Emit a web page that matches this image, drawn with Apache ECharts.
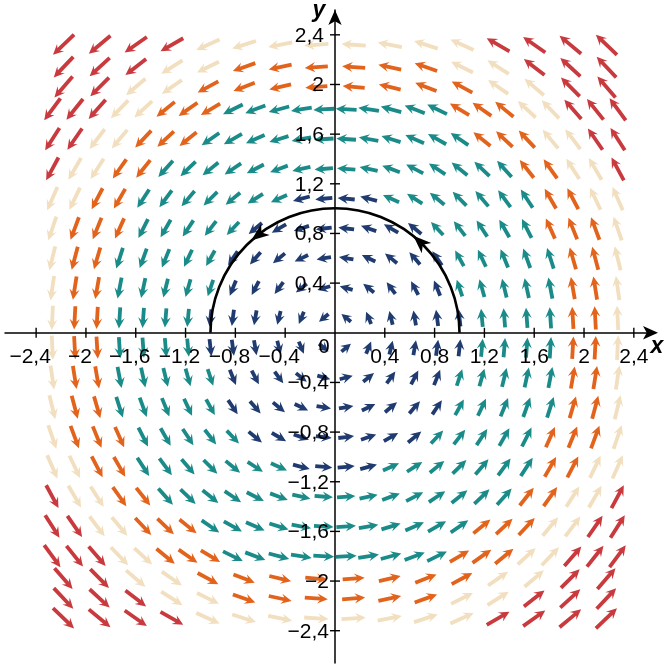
<!DOCTYPE html>
<html>
<head>
<meta charset="utf-8">
<script src="https://cdn.jsdelivr.net/npm/echarts@6/dist/echarts.min.js"></script>
<style>
html,body{margin:0;padding:0;background:#fff;}
#chart{width:668px;height:664px;}
</style>
</head>
<body>
<div id="chart"></div>
<script>
// ---- data ----
// regular arrow grid (centre region)
const innerX = [-2.27, -2.09, -1.91, -1.73, -1.54, -1.36, -1.18, -1.00, -0.82, -0.64, -0.45, -0.27, -0.09,
                 0.09, 0.27, 0.45, 0.64, 0.82, 1.00, 1.18, 1.36, 1.54, 1.73, 1.91, 2.09, 2.27];
const innerY = [1.80, 1.56, 1.32, 1.08, 0.84, 0.60, 0.36, 0.12, -0.12, -0.36, -0.60, -0.84, -1.08, -1.32, -1.56, -1.80];
// horizontal component of the arrows in each grid row
const innerU = [-1.80, -1.56, -1.32, -1.08, -0.84, -0.60, -0.36, -0.12, 0.12, 0.36, 0.60, 0.84, 1.08, 1.32, 1.56, 1.80];
// vertical component of the arrows in each grid column
const innerV = [-2.45, -2.26, -2.06, -1.87, -1.66, -1.47, -1.27, -1.08, -0.89, -0.69, -0.49, -0.29, -0.10,
                 0.10, 0.29, 0.49, 0.69, 0.89, 1.08, 1.27, 1.47, 1.66, 1.87, 2.06, 2.26, 2.45];
// outer rows (top and bottom band, wider spacing)
const outerX = [-2.18, -1.89, -1.60, -1.31, -1.02, -0.73, -0.44, -0.15, 0.15, 0.44, 0.73, 1.02, 1.31, 1.60, 1.89, 2.18];
const outerY = [2.32, 2.14, 1.98, -1.98, -2.14, -2.30];
const outerU = [-2.45, -2.22, -2.03, 2.03, 2.22, 2.45];
const outerV = [-2.35, -2.04, -1.73, -1.41, -1.10, -0.79, -0.48, -0.16, 0.16, 0.48, 0.79, 1.10, 1.41, 1.73, 2.04, 2.35];
// magnitude classes
const magBreaks = [1.12, 2.01, 2.42, 2.72];
const magColors = ['#1f3b70', '#1b8b89', '#e2631c', '#f1dfbf', '#c93a3e'];
// path C: upper half of the unit circle, traversed counterclockwise
const pathRadius = 1;
const pathArrowAngles = [47, 128];
// ticks and labels
const xTickValues = [-2.4, -2, -1.6, -1.2, -0.8, -0.4, 0.4, 0.8, 1.2, 1.6, 2, 2.4];
const yTickValues = [-2.4, -2, -1.6, -1.2, -0.8, -0.4, 0.4, 0.8, 1.2, 1.6, 2, 2.4];
const originLabel = '0';

// ---- build table ----
const arrows = [];
innerY.forEach((y, i) => innerX.forEach((x, j) => arrows.push([x, y, innerU[i], innerV[j]])));
outerY.forEach((y, i) => outerX.forEach((x, j) => arrows.push([x, y, outerU[i], outerV[j]])));
arrows.forEach(a => a.push(Math.hypot(a[2], a[3])));

const FONT = '"Liberation Sans", Arial, sans-serif';
function fmt(v) {
  const s = Math.abs(v).toFixed(1).replace(/\.0$/, '').replace('.', ',');
  return (v < 0 ? '\u2212' : '') + s;
}
function arrowPts(cx, cy, dx, dy, L, hl, hw, sw, notch) {
  const px = -dy, py = dx;
  const back = L / 2 - hl + notch;
  const loc = [[L / 2, 0], [L / 2 - hl, hw], [back, sw], [-L / 2, sw], [-L / 2, -sw], [back, -sw], [L / 2 - hl, -hw]];
  return loc.map(([t, s]) => [cx + t * dx + s * px, cy + t * dy + s * py]);
}
function dirPx(api, x, y, u, v) {
  const a = api.coord([x, y]);
  const b = api.coord([x + u * 0.01, y + v * 0.01]);
  let dx = b[0] - a[0], dy = b[1] - a[1];
  const n = Math.hypot(dx, dy) || 1;
  return [a, dx / n, dy / n];
}

const pieces = [
  {lt: magBreaks[0], color: magColors[0]},
  {gte: magBreaks[0], lt: magBreaks[1], color: magColors[1]},
  {gte: magBreaks[1], lt: magBreaks[2], color: magColors[2]},
  {gte: magBreaks[2], lt: magBreaks[3], color: magColors[3]},
  {gte: magBreaks[3], color: magColors[4]}
];

const tickData = xTickValues.map(v => [v, 0, 0]).concat(yTickValues.map(v => [0, v, 1]));

const chart = echarts.init(document.getElementById('chart'), null, {renderer: 'canvas'});
chart.setOption({
  animation: false,
  backgroundColor: '#fff',
  grid: {left: 5, top: 10, width: 650, height: 653, containLabel: false, outerBoundsMode: 'none'},
  xAxis: {
    type: 'value', min: -2.65, max: 2.57,
    axisLine: {onZero: true, lineStyle: {color: '#000', width: 1.5}, symbol: ['none', 'arrow'], symbolSize: [10, 15], symbolOffset: [0, 3]},
    axisTick: {show: false},
    splitLine: {show: false},
    axisLabel: {show: false}
  },
  yAxis: {
    type: 'value', min: -2.66, max: 2.6,
    axisLine: {onZero: true, lineStyle: {color: '#000', width: 1.5}, symbol: ['none', 'arrow'], symbolSize: [10, 15]},
    axisTick: {show: false},
    splitLine: {show: false},
    axisLabel: {show: false}
  },
  visualMap: {type: 'piecewise', show: false, dimension: 4, seriesIndex: 0, pieces: pieces},
  graphic: [
    {type: 'text', x: 657, y: 347, z: 10, style: {text: 'x', font: 'italic bold 23px ' + FONT, fill: '#000', align: 'center', verticalAlign: 'middle'}},
    {type: 'text', x: 319, y: 11, z: 10, style: {text: 'y', font: 'italic bold 23px ' + FONT, fill: '#000', align: 'center', verticalAlign: 'middle'}}
  ],
  series: [
    {
      type: 'custom', z: 3,
      data: arrows,
      encode: {x: 0, y: 1},
      renderItem: function (params, api) {
        const x = api.value(0), y = api.value(1), u = api.value(2), v = api.value(3), m = api.value(4);
        const [c, dx, dy] = dirPx(api, x, y, u, v);
        const L = 11.5 + 5.2 * m;
        const hl = Math.min(10.5, L * 0.8);
        return {
          type: 'polygon',
          shape: {points: arrowPts(c[0], c[1], dx, dy, L, hl, 5.1, 1.9, 2.6)},
          style: {fill: api.visual('color')}
        };
      }
    },
    {
      type: 'custom', z: 4,
      data: [[0, 0, pathRadius]],
      encode: {x: 0, y: 1},
      renderItem: function (params, api) {
        const c = api.coord([api.value(0), api.value(1)]);
        const r = api.size([api.value(2), 0])[0];
        return {
          type: 'arc',
          shape: {cx: c[0], cy: c[1], r: r, startAngle: Math.PI, endAngle: 2 * Math.PI, clockwise: true},
          style: {stroke: '#000', lineWidth: 2.6, fill: null}
        };
      }
    },
    {
      type: 'custom', z: 5,
      data: pathArrowAngles.map(a => [pathRadius * Math.cos(a * Math.PI / 180), pathRadius * Math.sin(a * Math.PI / 180), a]),
      encode: {x: 0, y: 1},
      renderItem: function (params, api) {
        const t = api.value(2) * Math.PI / 180;
        const [c, dx, dy] = dirPx(api, api.value(0), api.value(1), -Math.sin(t), Math.cos(t));
        return {
          type: 'polygon',
          shape: {points: arrowPts(c[0], c[1], dx, dy, 18, 18, 7, 0, 5).filter((p, i) => i !== 3 && i !== 4)},
          style: {fill: '#000'}
        };
      }
    },
    {
      type: 'custom', z: 6,
      data: tickData,
      encode: {x: 0, y: 1},
      renderItem: function (params, api) {
        const val = [api.value(0), api.value(1)];
        const c = api.coord(val);
        const vertical = api.value(2) === 0;
        const s = 5;
        const num = vertical ? val[0] : val[1];
        const label = fmt(num);
        const neg = num < 0;
        return {
          type: 'group',
          children: [
            {
              type: 'line',
              shape: vertical ? {x1: c[0], y1: c[1] - s, x2: c[0], y2: c[1] + s} : {x1: c[0] - s, y1: c[1], x2: c[0] + s, y2: c[1]},
              style: {stroke: '#000', lineWidth: 1.4}
            },
            {
              type: 'text',
              x: vertical ? c[0] - (neg ? 6 : 0) : c[0] - (neg ? 6 : 11),
              y: vertical ? c[1] + 24 : c[1] + 1,
              style: {text: label, font: '21px ' + FONT, fill: '#000', align: vertical ? 'center' : 'right', verticalAlign: 'middle'}
            }
          ]
        };
      }
    },
    {
      type: 'custom', z: 6,
      data: [[0, 0]],
      encode: {x: 0, y: 1},
      renderItem: function (params, api) {
        const c = api.coord([api.value(0), api.value(1)]);
        return {
          type: 'text', x: c[0] - 11, y: c[1] + 15,
          style: {text: originLabel, font: '20px ' + FONT, fill: '#000', align: 'center', verticalAlign: 'middle'}
        };
      }
    }
  ]
});
</script>
</body>
</html>
